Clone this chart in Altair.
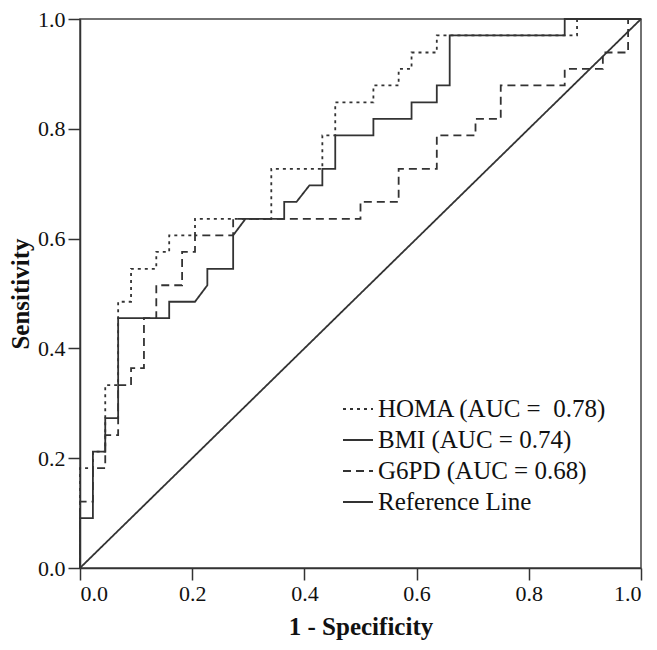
import altair as alt
import pandas as pd

# ROC curves (1 - specificity, sensitivity)
homa_fpr = [0.0, 0.0, 0.023, 0.023, 0.045, 0.045, 0.068, 0.068, 0.091, 0.091, 0.136,
            0.136, 0.159, 0.159, 0.205, 0.205, 0.341, 0.341, 0.432, 0.432, 0.455, 0.455,
            0.523, 0.523, 0.568, 0.568, 0.591, 0.591, 0.636, 0.636, 0.886, 0.886, 1.0]
homa_tpr = [0.0, 0.182, 0.182, 0.212, 0.212, 0.333, 0.333, 0.485, 0.485, 0.545, 0.545,
            0.576, 0.576, 0.606, 0.606, 0.636, 0.636, 0.727, 0.727, 0.788, 0.788, 0.848,
            0.848, 0.879, 0.879, 0.909, 0.909, 0.939, 0.939, 0.970, 0.970, 1.0, 1.0]

bmi_fpr = [0.0, 0.0, 0.023, 0.023, 0.045, 0.045, 0.068, 0.068, 0.159, 0.159, 0.205, 0.227,
           0.227, 0.273, 0.273, 0.295, 0.364, 0.364, 0.386, 0.409, 0.432, 0.432, 0.455,
           0.455, 0.523, 0.523, 0.591, 0.591, 0.636, 0.636, 0.659, 0.659, 0.864, 0.864, 1.0]
bmi_tpr = [0.0, 0.091, 0.091, 0.212, 0.212, 0.273, 0.273, 0.455, 0.455, 0.485, 0.485, 0.515,
           0.545, 0.545, 0.606, 0.636, 0.636, 0.667, 0.667, 0.697, 0.697, 0.727, 0.727,
           0.788, 0.788, 0.818, 0.818, 0.848, 0.848, 0.879, 0.879, 0.970, 0.970, 1.0, 1.0]

g6pd_fpr = [0.0, 0.0, 0.023, 0.023, 0.045, 0.045, 0.068, 0.068, 0.091, 0.091, 0.114, 0.114,
            0.136, 0.136, 0.182, 0.182, 0.205, 0.205, 0.273, 0.273, 0.5, 0.5, 0.568, 0.568,
            0.636, 0.636, 0.705, 0.705, 0.75, 0.75, 0.864, 0.864, 0.932, 0.932, 0.977, 0.977, 1.0]
g6pd_tpr = [0.0, 0.121, 0.121, 0.182, 0.182, 0.242, 0.242, 0.333, 0.333, 0.364, 0.364, 0.455,
            0.455, 0.515, 0.515, 0.576, 0.576, 0.606, 0.606, 0.636, 0.636, 0.667, 0.667, 0.727,
            0.727, 0.788, 0.788, 0.818, 0.818, 0.879, 0.879, 0.909, 0.909, 0.939, 0.939, 1.0, 1.0]

ref_fpr = [0.0, 1.0]
ref_tpr = [0.0, 1.0]

labels = ["HOMA (AUC =\u00a0 0.78)", "BMI (AUC = 0.74)", "G6PD (AUC = 0.68)", "Reference Line"]
tick_values = [0.0, 0.2, 0.4, 0.6, 0.8, 1.0]

rows = []
for lab, xs, ys in zip(labels,
                       [homa_fpr, bmi_fpr, g6pd_fpr, ref_fpr],
                       [homa_tpr, bmi_tpr, g6pd_tpr, ref_tpr]):
    for i, (a, b) in enumerate(zip(xs, ys)):
        rows.append({"series": lab, "idx": i, "fpr": a, "tpr": b})
df = pd.DataFrame(rows)

FONT = "Liberation Serif"

chart = alt.Chart(df, background="white").mark_line(color="#333333", strokeCap="butt").encode(
    x=alt.X("fpr:Q", scale=alt.Scale(domain=[0, 1], nice=False),
            axis=alt.Axis(values=tick_values, format=".1f", title="1 - Specificity",
                          titlePadding=10)),
    y=alt.Y("tpr:Q", scale=alt.Scale(domain=[0, 1], nice=False),
            axis=alt.Axis(values=tick_values, format=".1f", title="Sensitivity",
                          titlePadding=4)),
    strokeDash=alt.StrokeDash(
        "series:N",
        scale=alt.Scale(domain=labels, range=[[3, 4], [1, 0], [8, 5], [1, 0]]),
        legend=alt.Legend(title=None, orient="none", legendX=262, legendY=374,
                          symbolType="stroke", symbolSize=900, symbolStrokeWidth=1.8,
                          symbolStrokeColor="#333333",
                          labelFont=FONT, labelFontSize=25, labelColor="#111111",
                          labelOffset=4, rowPadding=2, padding=0, labelLimit=400),
    ),
    strokeWidth=alt.StrokeWidth(
        "series:N",
        scale=alt.Scale(domain=labels, range=[1.8, 1.8, 1.8, 1.3]),
        legend=None,
    ),
    order="idx:Q",
).properties(
    width=561,
    height=549,
    autosize=alt.AutoSizeParams(type="none"),
    padding={"left": 72, "top": 11, "right": 8, "bottom": 74},
).configure_view(
    stroke="#444444", strokeWidth=1.5
).configure_axis(
    grid=False,
    labelFont=FONT, labelFontSize=22, labelColor="#111111", labelPadding=3,
    titleFont=FONT, titleFontSize=25, titleFontWeight="bold", titleColor="#111111",
    domainColor="#333333", domainWidth=1.5,
    tickColor="#333333", tickWidth=1.5, tickSize=12,
)

chart.save("out.html", embed_options={"renderer": "svg", "actions": False})
